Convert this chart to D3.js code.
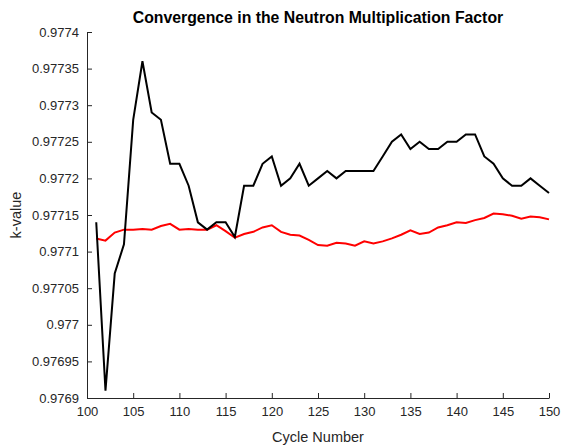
<!DOCTYPE html>
<html lang="en">
<head>
<meta charset="UTF-8">
<title>Convergence in the Neutron Multiplication Factor</title>
<script src="https://d3js.org/d3.v7.min.js"></script>
<style>
    body { margin: 0; background: #fff; font-family: "Liberation Sans", Arial, sans-serif; }
    .axis text { fill: #262626; font-size: 13px; }
    .axis path, .axis line { stroke: #262626; }
</style>
</head>
<body>
<svg width="561" height="446"></svg>
<script>
    // cycle numbers 101..150
    const cycles = d3.range(101, 151);

    // k-value of each cycle (black)
    const kCycle = [0.97714, 0.97691, 0.97707, 0.97711, 0.97728, 0.97736, 0.97729, 0.97728, 0.97722, 0.97722,
        0.97719, 0.97714, 0.97713, 0.97714, 0.97714, 0.97712, 0.97719, 0.97719, 0.97722, 0.97723,
        0.97719, 0.97720, 0.97722, 0.97719, 0.97720, 0.97721, 0.97720, 0.97721, 0.97721, 0.97721,
        0.97721, 0.97723, 0.97725, 0.97726, 0.97724, 0.97725, 0.97724, 0.97724, 0.97725, 0.97725,
        0.97726, 0.97726, 0.97723, 0.97722, 0.97720, 0.97719, 0.97719, 0.97720, 0.97719, 0.97718];

    // running average (red)
    const kAverage = [0.977118, 0.977115, 0.977126, 0.977130, 0.977130, 0.977131, 0.977130, 0.977135, 0.977138, 0.977130,
        0.977131, 0.977130, 0.977130, 0.977136, 0.977128, 0.977119, 0.977124, 0.977127, 0.977133, 0.977136,
        0.977127, 0.977123, 0.977122, 0.977116, 0.977109, 0.977108, 0.977112, 0.977111, 0.977108, 0.977114,
        0.977111, 0.977114, 0.977118, 0.977123, 0.977129, 0.977124, 0.977126, 0.977133, 0.977136, 0.977140,
        0.977139, 0.977143, 0.977146, 0.977152, 0.977151, 0.977149, 0.977145, 0.977148, 0.977147, 0.977144];

    const xTicks = d3.range(100, 151, 5);
    const yTicks = [0.9769, 0.97695, 0.977, 0.97705, 0.9771, 0.97715, 0.9772, 0.97725, 0.9773, 0.97735, 0.9774];

    const svg = d3.select("svg");
    const margin = { top: 32, right: 12, bottom: 48, left: 87 };
    const width = 549 - margin.left, height = 398 - margin.top;

    const g = svg.append("g").attr("transform", `translate(${margin.left},${margin.top})`);

    const x = d3.scaleLinear().domain([100, 150]).range([0, width]);
    const y = d3.scaleLinear().domain([0.9769, 0.9774]).range([height, 0]);

    // axes, ticks pointing inward like MATLAB
    g.append("g").attr("class", "axis")
        .attr("transform", `translate(0,${height})`)
        .call(d3.axisBottom(x).tickValues(xTicks).tickSizeInner(-5).tickSizeOuter(0).tickPadding(10).tickFormat(d3.format("d")))
        .call(a => a.selectAll("text").attr("dy", "0.6em"));

    g.append("g").attr("class", "axis")
        .call(d3.axisLeft(y).tickValues(yTicks).tickSizeInner(-5).tickSizeOuter(0).tickPadding(8).tickFormat(d => String(+d.toFixed(5))));

    const line = d3.line().x((d, i) => x(cycles[i])).y(d => y(d));

    g.append("path").datum(kAverage)
        .attr("fill", "none").attr("stroke", "#ff0000").attr("stroke-width", 2)
        .attr("d", line);

    g.append("path").datum(kCycle)
        .attr("fill", "none").attr("stroke", "#000").attr("stroke-width", 2)
        .attr("d", line);

    // title and labels
    svg.append("text")
        .attr("x", margin.left + width / 2).attr("y", 23)
        .attr("text-anchor", "middle")
        .attr("font-size", "15.8px").attr("font-weight", "bold").attr("fill", "#000")
        .text("Convergence in the Neutron Multiplication Factor");

    svg.append("text")
        .attr("x", margin.left + width / 2).attr("y", 442)
        .attr("text-anchor", "middle")
        .attr("font-size", "14.5px").attr("fill", "#262626")
        .text("Cycle Number");

    svg.append("text")
        .attr("transform", `translate(21,${margin.top + height / 2}) rotate(-90)`)
        .attr("text-anchor", "middle")
        .attr("font-size", "14.5px").attr("fill", "#262626")
        .text("k-value");
</script>
</body>
</html>
